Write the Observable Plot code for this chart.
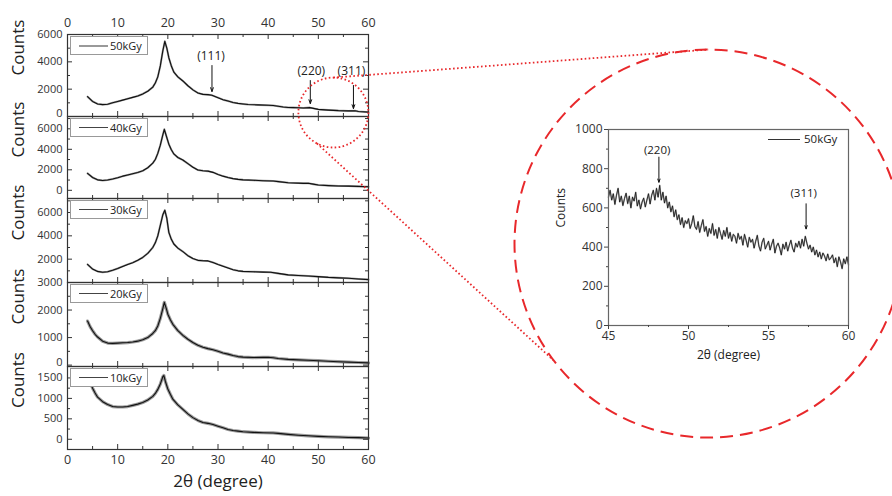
<!DOCTYPE html>
<html><head><meta charset="utf-8">
<script src="https://cdn.jsdelivr.net/npm/d3@7"></script>
<script src="https://cdn.jsdelivr.net/npm/@observablehq/plot@0.6"></script>
<style>
body{margin:0;background:#fff;font-family:"Open Sans",sans-serif;}
#chart{position:relative;width:892px;height:496px;overflow:hidden;background:#fff;}
#chart svg{position:absolute;left:0;top:0;}
.legend{position:absolute;background:#fff;border:1.5px solid #999;box-sizing:border-box;font-size:11px;color:#222;}
.legend .ln{position:absolute;left:8px;top:8px;width:29px;}
.legend .tx{position:absolute;left:39px;top:1px;line-height:15px;}
.ilegend{position:absolute;font-size:11.5px;color:#222;}
.ilegend .ln{position:absolute;left:0;top:8px;width:32px;border-top:1px solid #333;}
.ilegend .tx{position:absolute;left:36px;top:0;line-height:16px;white-space:nowrap;}
</style></head>
<body><div id="chart"></div>
<script>
// ---------- data ----------
const doseLabels = ["50kGy","40kGy","30kGy","20kGy","10kGy"];

const theta50 = [4,5,6,7,8,9,10,11,12,13,14,15,16,17,17.5,18,18.5,19,19.4,19.8,20.2,20.7,21.2,22,23,24,25,26,27,28,28.8,30,31,32,33,34,35,36,38,40,41,42,43,44,45,46,47,48.3,50,52,54,56,57.3,58,60];
const counts50 = [1450,1100,920,870,900,1000,1100,1200,1300,1400,1500,1650,1850,2150,2450,2900,3700,4800,5500,5000,4300,3700,3250,2900,2600,2250,1950,1720,1620,1600,1550,1380,1230,1130,1030,960,920,880,850,820,800,750,700,660,650,640,620,650,520,470,430,410,415,370,320];

const theta40 = [4,5,6,7,8,9,10,11,12,13,14,15,16,17,17.5,18,18.5,19,19.3,19.7,20.2,20.7,21.2,22,23,24,25,26,27,28,29,30,31,32,33,34,35,37,39,41,42,44,46,47,48,49,50,52,54,56,58,60];
const counts40 = [1650,1250,1020,960,1000,1100,1230,1380,1500,1620,1730,1900,2200,2650,3000,3600,4400,5400,5950,5300,4500,3950,3550,3200,2950,2600,2250,1980,1900,1870,1750,1550,1380,1250,1140,1070,1020,980,930,900,850,740,700,680,690,600,520,460,420,410,380,350];

const theta30 = [4,5,6,7,8,9,10,11,12,13,14,15,16,17,17.5,18,18.5,19,19.4,19.8,20.2,20.7,21.2,22,23,24,25,26,27,28,29,30,31,32,33,34,35,37,39,40.5,42,44,46,48,50,52,54,56,58,60];
const counts30 = [1550,1150,950,880,920,1050,1200,1380,1550,1700,1900,2150,2500,3000,3400,4000,4900,5800,6200,5500,4300,3700,3300,2950,2650,2300,2050,1900,1870,1850,1720,1550,1400,1250,1100,1000,950,920,890,880,780,650,600,560,500,440,400,360,300,250];

const theta20 = [4,4.5,5,5.5,6,7,8,9,10,11,12,13,14,15,16,17,17.5,18,18.5,19,19.3,19.7,20,20.5,21,22,23,24,25,26,27,28,29,30,31,32,33,34,35,37,39,40,41,42,44,46,48,50,52,54,56,58,60];
const counts20 = [1600,1400,1250,1120,1020,870,800,790,800,810,820,840,870,920,1000,1150,1250,1420,1700,2050,2280,2050,1850,1650,1480,1250,1080,940,820,720,650,600,560,500,440,400,350,310,290,275,280,285,270,240,210,190,175,160,140,125,110,95,80];

const theta10 = [4,4.5,5,5.5,6,7,8,9,10,11,12,13,14,15,16,17,17.5,18,18.5,19,19.2,19.5,20,20.5,21,22,23,24,25,26,27,28,29,30,31,32,33,34,35,37,39,41,42,44,46,48,50,52,54,56,58,60];
const counts10 = [1550,1400,1250,1130,1030,920,850,800,790,790,800,830,860,900,960,1050,1120,1220,1350,1530,1560,1420,1230,1100,980,840,730,620,530,460,410,390,360,320,280,240,215,200,185,170,160,155,145,120,100,85,70,60,55,45,40,30];

// zoomed 50kGy scan, 45..60 degrees at 0.1 degree steps
const insetStart = 45, insetStep = 0.1;
const insetCounts = [
655,690,640,672,618,665,700,630,660,612,
648,675,622,660,600,655,635,680,610,640,
595,630,650,605,640,672,620,665,690,640,
700,655,715,640,680,625,660,600,630,580,
610,555,590,540,565,515,550,500,535,520,
545,495,520,560,505,490,530,475,510,540,
480,505,455,495,470,520,460,490,445,500,
470,440,485,455,500,445,475,430,465,455,
420,470,440,455,410,465,435,400,450,425,
440,395,430,460,405,380,425,445,390,410,
430,385,415,440,370,405,420,395,360,415,
390,425,380,410,435,395,375,420,400,430,
395,440,405,455,420,390,410,375,400,360,
385,350,375,340,370,355,330,365,335,345,
360,320,345,300,350,325,290,340,315,350,
310];

const xMajor = [0,10,20,30,40,50,60];
const xMinor = [5,15,25,35,45,55];
const peakLabels = ["(111)","(220)","(311)"];
const peakTheta = [28.8,48.4,57.0];
const insetPeakLabels = ["(220)","(311)"];
const insetPeakTheta = [48.15,57.35];
const insetXTicks = [45,50,55,60];
const insetXMinor = [47.5,52.5,57.5];
const insetYTicks = [0,200,400,600,800,1000];
const insetYMinor = [100,300,500,700,900];

// ---------- layout ----------
const RED = "#e8282b";
const W = 380, H = 496;
const fmt = d3.format("d");
const panels = [
  {label: doseLabels[0], theta: theta50, counts: counts50, top: 34, bottom: 116, domain: [0, 6000], yLabels: [2000,4000,6000], yLow: [0], yMajor:[0,2000,4000,6000], yMinor:[1000,3000,5000], halo: 2},
  {label: doseLabels[1], theta: theta40, counts: counts40, top: 116, bottom: 198, domain: [-800, 7200], yLabels: [0,2000,4000,6000], yLow: [], yMajor:[0,2000,4000,6000], yMinor:[1000,3000,5000,7000], halo: 2},
  {label: doseLabels[2], theta: theta30, counts: counts30, top: 198, bottom: 282, domain: [0, 7200], yLabels: [2000,4000,6000], yLow: [], yMajor:[0,2000,4000,6000], yMinor:[1000,3000,5000,7000], halo: 2},
  {label: doseLabels[3], theta: theta20, counts: counts20, top: 282, bottom: 366, domain: [-50, 3000], yLabels: [1000,2000,3000], yLow: [0], yMajor:[0,1000,2000,3000], yMinor:[500,1500,2500], halo: 3.2},
  {label: doseLabels[4], theta: theta10, counts: counts10, top: 366, bottom: 449, domain: [-250, 1780], yLabels: [0,500,1000,1500], yLow: [], yMajor:[0,500,1000,1500], yMinor:[250,750,1250], halo: 3.2}
];
const style = {fontFamily: "'Open Sans', sans-serif", fontSize: "12px", background: "transparent", overflow: "visible", color: "#222"};
const chart = document.getElementById("chart");

function makePanel(cfg, i) {
  const fh = cfg.bottom - cfg.top, fw = 368 - 67;
  const data = cfg.theta.map((t, k) => ({t, c: cfg.counts[k]}));
  const marks = [
    Plot.line(data, {x: "t", y: "c", stroke: "#9a9a9a", strokeWidth: cfg.halo}),
    Plot.line(data, {x: "t", y: "c", stroke: "#111", strokeWidth: 1.1}),
    Plot.frame({stroke: "#333", strokeWidth: 1.2}),
    // inward ticks
    Plot.ruleX(xMajor, {x: d => d, insetTop: fh - 5, stroke: "#333"}),
    Plot.ruleX(xMinor, {x: d => d, insetTop: fh - 3, stroke: "#333"}),
    Plot.ruleX(xMajor, {x: d => d, insetBottom: fh - 5, stroke: "#333"}),
    Plot.ruleX(xMinor, {x: d => d, insetBottom: fh - 3, stroke: "#333"}),
    Plot.ruleY(cfg.yMajor, {y: d => d, insetRight: fw - 5, stroke: "#333"}),
    Plot.ruleY(cfg.yMinor, {y: d => d, insetRight: fw - 3, stroke: "#333"}),
    Plot.ruleY(cfg.yMajor, {y: d => d, insetLeft: fw - 5, stroke: "#333"}),
    Plot.ruleY(cfg.yMinor, {y: d => d, insetLeft: fw - 3, stroke: "#333"}),
    Plot.axisY({ticks: cfg.yLabels, tickSize: 0, tickPadding: 5, label: null, fontSize: 11, fill: "#333", tickFormat: fmt}),
    Plot.text(["Counts"], {frameAnchor: "left", dx: -49, rotate: -90, fontSize: 17, fill: "#222", text: d => d})
  ];
  if (cfg.yLow.length) {
    marks.push(Plot.axisY({ticks: cfg.yLow, tickSize: 0, tickPadding: 5, dy: -3, label: null, fontSize: 11, fill: "#333", tickFormat: fmt}));
  }
  if (i === 0) {
    marks.push(Plot.axisX({anchor: "top", ticks: xMajor, tickSize: 0, tickPadding: 8, label: null, fontSize: 12.5, fill: "#333", tickFormat: fmt}));
    const ly = [4390, 3310, 3310];
    const a1 = [3730, 2630, 2270];
    const a2 = [1830, 950, 585];
    const tx = [28.6, 48.6, 56.6];
    const ann = peakLabels.map((l, k) => ({l, x: peakTheta[k], tx: tx[k], ty: ly[k], y1: a1[k], y2: a2[k]}));
    marks.push(Plot.text(ann, {x: "tx", y: "ty", text: "l", fontSize: 12, fill: "#222"}));
    marks.push(Plot.arrow(ann, {x1: "x", x2: "x", y1: "y1", y2: "y2", stroke: "#111", strokeWidth: 1, headLength: 6, headAngle: 40}));
  }
  if (i === panels.length - 1) {
    marks.push(Plot.axisX({anchor: "bottom", ticks: xMajor, tickSize: 0, tickPadding: 6, label: null, fontSize: 12.5, fill: "#333", tickFormat: fmt}));
    marks.push(Plot.text(["2θ (degree)"], {frameAnchor: "bottom", dy: 37, fontSize: 17, fill: "#222", text: d => d}));
  }
  const p = Plot.plot({
    width: W, height: H,
    marginLeft: 67, marginRight: W - 368, marginTop: cfg.top, marginBottom: H - cfg.bottom,
    x: {domain: [0, 60], axis: null},
    y: {domain: cfg.domain, axis: null},
    style, marks
  });
  chart.appendChild(p);
  // legend box
  const lg = document.createElement("div");
  lg.className = "legend";
  lg.style.left = "70px"; lg.style.top = (cfg.top + 2) + "px";
  lg.style.width = "78px"; lg.style.height = "19px";
  lg.innerHTML = `<span class="ln" style="border-top:${i === 0 ? "2px solid #999" : "1px solid #444"}"></span><span class="tx">${cfg.label}</span>`;
  chart.appendChild(lg);
  return p;
}
const plots = panels.map(makePanel);

// ---------- inset ----------
const insetData = insetCounts.map((c, k) => ({t: insetStart + k * insetStep, c}));
const insetAnn = insetPeakLabels.map((l, k) => ({l, x: insetPeakTheta[k], tx: [48.04, 57.2][k], ty: [896, 675][k], y1: [859, 621][k], y2: [731, 493][k]}));
const inset = Plot.plot({
  width: 892, height: 496,
  marginLeft: 608, marginRight: 892 - 848, marginTop: 129, marginBottom: 496 - 325,
  x: {domain: [45, 60], axis: null},
  y: {domain: [0, 1000], axis: null},
  style,
  marks: [
    Plot.line(insetData, {x: "t", y: "c", stroke: "#aaa", strokeWidth: 1.6}),
    Plot.line(insetData, {x: "t", y: "c", stroke: "#111", strokeWidth: 0.8}),
    Plot.frame({stroke: "#666", strokeWidth: 1.2}),
    Plot.axisY({ticks: insetYTicks, tickSize: 4, tickPadding: 2, label: null, fontSize: 12, fill: "#333", stroke: "#444", tickFormat: fmt}),
    Plot.axisY({ticks: insetYMinor, tickSize: 2, tickPadding: 0, label: null, tickFormat: () => "", stroke: "#444"}),
    Plot.axisX({ticks: insetXTicks, tickSize: 4, tickPadding: 2, label: null, fontSize: 12, fill: "#333", stroke: "#444", tickFormat: fmt}),
    Plot.axisX({ticks: insetXMinor, tickSize: 2, tickPadding: 0, label: null, tickFormat: () => "", stroke: "#444"}),
    Plot.text(["Counts"], {frameAnchor: "left", dx: -47, rotate: -90, fontSize: 12, fill: "#222", text: d => d}),
    Plot.text(["2θ (degree)"], {frameAnchor: "bottom", dy: 33, fontSize: 12, fill: "#222", text: d => d}),
    Plot.text(insetAnn, {x: "tx", y: "ty", text: "l", fontSize: 11.5, fill: "#222"}),
    Plot.arrow(insetAnn, {x1: "x", x2: "x", y1: "y1", y2: "y2", stroke: "#111", strokeWidth: 1, headLength: 5, headAngle: 40})
  ]
});
chart.appendChild(inset);
const il = document.createElement("div");
il.className = "ilegend";
il.style.left = "768px"; il.style.top = "131px";
il.innerHTML = `<span class="ln"></span><span class="tx">${doseLabels[0]}</span>`;
chart.appendChild(il);

// ---------- zoom annotation overlay ----------
function toPx(plot, x, y) {
  const sx = plot.scale("x"), sy = plot.scale("y");
  const fx = sx.apply ? v => sx.apply(v) : d3.scaleLinear(sx.domain, sx.range);
  const fy = sy.apply ? v => sy.apply(v) : d3.scaleLinear(sy.domain, sy.range);
  return [fx(x), fy(y)];
}
const zoomSpot = {theta: 53.0, counts: 290, r: 35};     // in 50kGy panel
const zoomView = {theta: 51.25, counts: 418, r: 194};   // in inset
const [scx, scy] = toPx(plots[0], zoomSpot.theta, zoomSpot.counts);
const [bcx, bcy] = toPx(inset, zoomView.theta, zoomView.counts);
const onCircle = (cx, cy, r, deg) => ({x: cx + r * Math.cos(deg * Math.PI / 180), y: cy + r * Math.sin(deg * Math.PI / 180)});
const connectors = [[-90, -90], [118, 143]].map(([a, b]) => {
  const p = onCircle(scx, scy, zoomSpot.r, a), q = onCircle(bcx, bcy, zoomView.r, b);
  return {x1: p.x, y1: p.y, x2: q.x, y2: q.y};
});
const overlay = Plot.plot({
  width: 892, height: 496, margin: 0,
  x: {domain: [0, 892], range: [0, 892], axis: null},
  y: {domain: [0, 496], range: [0, 496], axis: null},
  style,
  marks: [
    Plot.link(connectors, {x1: "x1", y1: "y1", x2: "x2", y2: "y2", stroke: RED, strokeWidth: 1.8, strokeDasharray: "1.6 2.4"}),
    Plot.dot([{x: scx, y: scy}], {x: "x", y: "y", r: zoomSpot.r, stroke: RED, fill: "none", strokeWidth: 1.8, strokeDasharray: "1.6 2.4"}),
    Plot.dot([{x: bcx, y: bcy}], {x: "x", y: "y", r: zoomView.r, stroke: RED, fill: "none", strokeWidth: 2, strokeDasharray: "13 7"})
  ]
});
chart.appendChild(overlay);
</script></body></html>
